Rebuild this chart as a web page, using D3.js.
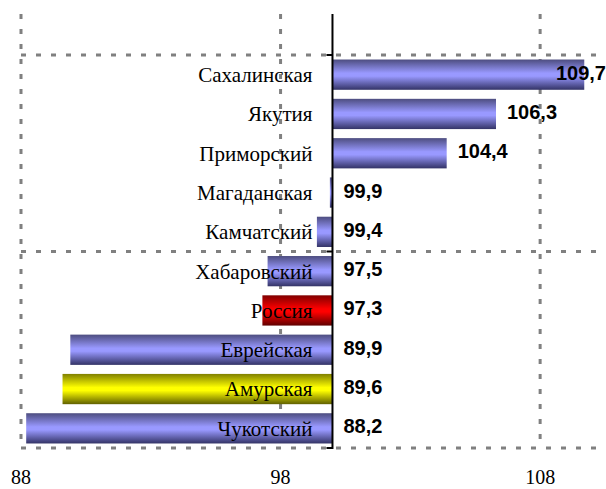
<!DOCTYPE html>
<html>
<head>
<meta charset="utf-8">
<script src="https://cdn.jsdelivr.net/npm/d3@7"></script>
<style>
  body { margin: 0; background: #fff; }
  svg { display: block; }
</style>
</head>
<body>
<div id="chart"></div>
<script>
// regions, top to bottom
var regions = ["Сахалинская", "Якутия", "Приморский", "Магаданская", "Камчатский",
               "Хабаровский", "Россия", "Еврейская", "Амурская", "Чукотский"];
var values = [109.7, 106.3, 104.4, 99.9, 99.4, 97.5, 97.3, 89.9, 89.6, 88.2];
var valueLabels = ["109,7", "106,3", "104,4", "99,9", "99,4", "97,5", "97,3", "89,9", "89,6", "88,2"];
var xTicks = [88, 98, 108];
var baseValue = 100;

let svgWidth = 606;
let svgHeight = 489;

var svg = d3.select("#chart").append("svg").attr("width", svgWidth).attr("height", svgHeight);

var x = d3.scaleLinear()
    .domain([88, 111])
    .range([21, 618]);

var y = d3.scaleBand()
    .domain(regions)
    .range([55, 448])
    .paddingInner(0.23)
    .paddingOuter(0.115);

var plotTop = 14;
var step = y.step();

// cylinder style gradients
var defs = svg.append("defs");
function grad(id, edgeTop, mid, edgeBottom) {
    var g = defs.append("linearGradient").attr("id", id)
        .attr("x1", 0).attr("y1", 0).attr("x2", 0).attr("y2", 1);
    g.append("stop").attr("offset", "0%").attr("stop-color", edgeTop);
    g.append("stop").attr("offset", "45%").attr("stop-color", mid);
    g.append("stop").attr("offset", "55%").attr("stop-color", mid);
    g.append("stop").attr("offset", "100%").attr("stop-color", edgeBottom);
}
grad("gBlue", "#4d4d80", "#9999ff", "#333366");
grad("gRed", "#800000", "#ff0000", "#600000");
grad("gYellow", "#808000", "#ffff00", "#606000");

function fillFor(name) {
    if (name == "Россия") return "url(#gRed)";
    if (name == "Амурская") return "url(#gYellow)";
    return "url(#gBlue)";
}

// grid lines
var grid = svg.append("g")
    .attr("stroke", "#808080")
    .attr("stroke-width", 3)
    .attr("stroke-dasharray", "5,10");

grid.selectAll(".vgrid")
    .data(xTicks)
    .enter()
    .append("line")
    .attr("class", "vgrid")
    .attr("x1", d => x(d)).attr("x2", d => x(d))
    .attr("y1", plotTop).attr("y2", y.range()[1]);

grid.selectAll(".hgrid")
    .data([0, 5, 10])
    .enter()
    .append("line")
    .attr("class", "hgrid")
    .attr("x1", x(88)).attr("x2", svgWidth)
    .attr("y1", d => y.range()[0] + d * step)
    .attr("y2", d => y.range()[0] + d * step);

// bars from the 100 baseline
svg.append("g")
    .selectAll("rect")
    .data(values)
    .enter()
    .append("rect")
    .attr("x", d => x(Math.min(d, baseValue)))
    .attr("width", d => Math.abs(x(d) - x(baseValue)))
    .attr("y", (d, i) => y(regions[i]))
    .attr("height", y.bandwidth())
    .attr("fill", (d, i) => fillFor(regions[i]));

// category axis at 100
var axis = svg.append("g").attr("stroke", "#000").attr("stroke-width", 2);
axis.append("line")
    .attr("x1", x(baseValue)).attr("x2", x(baseValue))
    .attr("y1", plotTop).attr("y2", y.range()[1] + 1);
axis.selectAll(".tick")
    .data([0, 5, 10])
    .enter()
    .append("line")
    .attr("x1", x(baseValue) - 6).attr("x2", x(baseValue))
    .attr("y1", d => y.range()[0] + d * step)
    .attr("y2", d => y.range()[0] + d * step);

// category labels
svg.append("g")
    .selectAll("text")
    .data(regions)
    .enter()
    .append("text")
    .attr("x", x(baseValue) - 20)
    .attr("y", d => y(d) + y.bandwidth() / 2)
    .attr("dy", "0.35em")
    .attr("text-anchor", "end")
    .style("font-family", "'Liberation Serif', 'Times New Roman', serif")
    .style("font-size", "21px")
    .text(d => d);

// value labels
svg.append("g")
    .selectAll("text")
    .data(values)
    .enter()
    .append("text")
    .attr("x", d => x(Math.max(d, baseValue)) + 11)
    .attr("y", (d, i) => y(regions[i]) + y.bandwidth() / 2)
    .attr("dy", "0.25em")
    .style("font-family", "'Liberation Sans', Arial, sans-serif")
    .style("font-weight", "bold")
    .style("font-size", "20px")
    .text((d, i) => valueLabels[i])
    .each(function() {
        var w = this.getBBox().width;
        var cur = +d3.select(this).attr("x");
        if (cur + w > svgWidth) d3.select(this).attr("x", svgWidth - w);
    });

// value axis labels
svg.append("g")
    .selectAll("text")
    .data(xTicks)
    .enter()
    .append("text")
    .attr("x", d => x(d))
    .attr("y", 484)
    .attr("text-anchor", "middle")
    .style("font-family", "'Liberation Serif', 'Times New Roman', serif")
    .style("font-size", "20px")
    .text(d => d);
</script>
</body>
</html>
